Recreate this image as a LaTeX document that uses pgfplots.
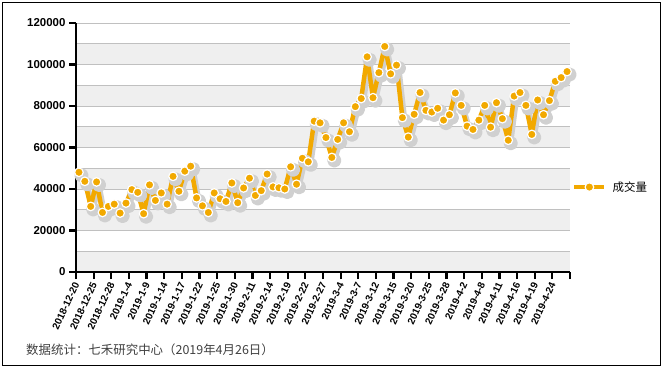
\documentclass[border=0pt]{standalone}
\usepackage{pgfplots}
\usepackage{pgfplotstable}
\pgfplotsset{compat=1.18}
\usepackage{fontspec}
\setmainfont{Liberation Sans}
\newfontfamily\cjk{Noto Sans CJK SC}
\definecolor{gold}{RGB}{242,169,0}
\definecolor{band}{RGB}{239,239,239}
\definecolor{gridc}{RGB}{192,192,192}
\definecolor{shad}{RGB}{208,208,208}
\pgfplotstableread{
i v
0 48050
1 43700
2 31600
3 43400
4 28700
5 31600
6 32700
7 28400
8 33200
9 39700
10 38400
11 28100
12 42000
13 34500
14 38100
15 32700
16 46100
17 38900
18 48600
19 51000
20 35700
21 31900
22 28700
23 38100
24 35300
25 34000
26 42900
27 33400
28 40500
29 45200
30 36900
31 39200
32 47200
33 41000
34 40600
35 40000
36 50700
37 42300
38 54800
39 53100
40 72700
41 71900
42 64800
43 55200
44 63900
45 71900
46 67600
47 79700
48 83600
49 103700
50 84000
51 96100
52 108700
53 95500
54 99700
55 74400
56 65000
57 76000
58 86500
59 77900
60 77100
61 78900
62 73200
63 75800
64 86300
65 80300
66 70300
67 68700
68 73200
69 80300
70 69800
71 81600
72 73900
73 63500
74 84800
75 86500
76 80300
77 66300
78 82900
79 75800
80 82600
81 91900
82 93700
83 96600
}\datatable
\begin{document}
\begin{tikzpicture}
\path (0,0) rectangle (664bp,369bp);
\draw[line width=0.9bp] (2bp,4bp) rectangle (660bp,367bp);
\begin{axis}[
  at={(76bp,97bp)}, anchor=south west,
  scale only axis, width=494bp, height=249bp,
  xmin=-0.5, xmax=83.5, ymin=0, ymax=120000,
  axis x line*=bottom, axis y line*=left,
  axis line style={line width=2.4bp, black},
  axis on top,
  tick align=outside,
  major tick length=7bp,
  tick style={black, line width=2.2bp},
  xtick={-0.5,2.5,5.5,8.5,11.5,14.5,17.5,20.5,23.5,26.5,29.5,32.5,35.5,38.5,41.5,44.5,47.5,50.5,53.5,56.5,59.5,62.5,65.5,68.5,71.5,74.5,77.5,80.5,83.5},
  xticklabels={2018-12-20,2018-12-25,2018-12-28,2019-1-4,2019-1-9,2019-1-14,2019-1-17,2019-1-22,2019-1-25,2019-1-30,2019-2-11,2019-2-14,2019-2-19,2019-2-22,2019-2-27,2019-3-4,2019-3-7,2019-3-12,2019-3-15,2019-3-20,2019-3-25,2019-3-28,2019-4-2,2019-4-8,2019-4-11,2019-4-16,2019-4-19,2019-4-24,{}},
  xticklabel style={rotate=65, anchor=east, font=\bfseries\fontsize{10}{10}\selectfont, xshift=0.5bp, yshift=-2bp},
  ytick={0,20000,40000,60000,80000,100000,120000},
  yticklabel style={font=\bfseries\fontsize{11.5}{12}\selectfont,
    /pgf/number format/fixed, /pgf/number format/precision=0,
    /pgf/number format/assume math mode=true,
    /pgf/number format/set thousands separator={}},
  scaled y ticks=false,
  clip=false,
  legend style={at={(1.004,0.341)}, anchor=west, draw=none, fill=none,
    font=\cjk\fontsize{11.5}{12}\selectfont, inner xsep=0pt},
  legend image code/.code={\draw[mark repeat=2,mark phase=2,#1] plot coordinates {(0bp,0bp) (15bp,0bp) (30bp,0bp)}; \path (34bp,0bp);},
]
\fill[band] (axis cs:-0.5,0) rectangle (axis cs:83.5,10000);
\fill[band] (axis cs:-0.5,20000) rectangle (axis cs:83.5,30000);
\fill[band] (axis cs:-0.5,40000) rectangle (axis cs:83.5,50000);
\fill[band] (axis cs:-0.5,60000) rectangle (axis cs:83.5,70000);
\fill[band] (axis cs:-0.5,80000) rectangle (axis cs:83.5,90000);
\fill[band] (axis cs:-0.5,100000) rectangle (axis cs:83.5,110000);
\pgfplotsinvokeforeach{10000,20000,30000,40000,50000,60000,70000,80000,90000,100000,110000,120000}{
  \draw[gridc, line width=0.9bp] (axis cs:-0.5,#1) -- (axis cs:83.5,#1);
}
\addplot[forget plot, color=shad, line width=5bp, line join=round, xshift=2.5bp, yshift=-3bp,
  mark=*, mark size=4.6bp, mark options={fill=shad, draw=none}] table[x=i, y=v] {\datatable};
\addplot[color=gold, line width=4.5bp, line join=round,
  mark=*, mark size=4.3bp, mark options={fill=gold, draw=white, line width=1.2bp}] table[x=i, y=v] {\datatable};
\addlegendentry{成交量}
\end{axis}
\node[anchor=west, inner sep=0pt, text=black!75, font=\cjk\fontsize{12.5}{13}\selectfont] at (26bp,19bp) {数据统计：七禾研究中心（2019年4月26日）};
\end{tikzpicture}
\end{document}
